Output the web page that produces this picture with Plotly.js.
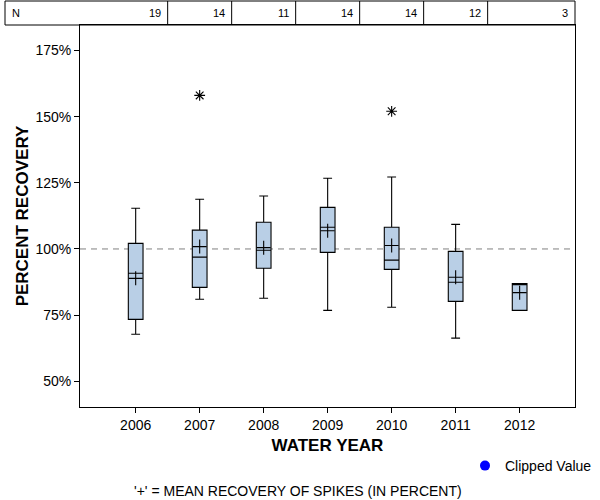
<!DOCTYPE html>
<html>
<head>
<meta charset="utf-8">
<script src="https://cdn.plot.ly/plotly-3.0.1.min.js"></script>
<style>html,body{margin:0;padding:0;background:#fff;}#chart{width:600px;height:500px;}</style>
</head>
<body>
<div id="chart"></div>
<script>
// ---- data ----
var years = ['2006', '2007', '2008', '2009', '2010', '2011', '2012'];
var nCounts = [19, 14, 11, 14, 14, 12, 3];
var lowerWhisker = [67.8, 81.0, 81.4, 76.8, 78.0, 66.3, 76.8];
var q1 = [73.4, 85.5, 92.7, 98.7, 92.3, 80.2, 76.8];
var median = [90.8, 96.9, 99.5, 108.2, 95.8, 87.4, 86.9];
var q3 = [102.1, 107.1, 110.1, 115.7, 108.2, 99.1, 86.9];
var upperWhisker = [115.4, 118.8, 120.0, 126.7, 127.2, 109.3, 86.9];
var means = [88.9, 100.9, 100.5, 106.9, 101.3, 89.3, 83.5];
var outlierYears = ['2007', '2010'];
var outlierValues = [158.0, 152.0];
var yTicks = [50, 75, 100, 125, 150, 175];
var yTickLabels = ['50%', '75%', '100%', '125%', '150%', '175%'];

// ---- layout helpers ----
var FONT = 'Liberation Sans, Arial, sans-serif';
var idx = years.map(function (d, i) { return i; });
var xRange = [-0.87, 6.865];
var yRange = [40.3, 184.6];
var plotW = 495, plotH = 382;
var tableH = 24 / plotH;

var traces = [
  {
    type: 'box',
    x: idx,
    q1: q1, median: median, q3: q3,
    lowerfence: lowerWhisker, upperfence: upperWhisker,
    width: 0.23,
    whiskerwidth: 0.6,
    fillcolor: '#b9cfe6',
    line: { color: '#000', width: 1.1 },
    boxpoints: false,
    hoverinfo: 'skip',
    showlegend: false
  },
  {
    type: 'scatter', mode: 'markers',
    x: idx, y: means,
    marker: { symbol: 'cross-thin-open', size: 10, color: '#000', line: { color: '#000', width: 1.1 } },
    showlegend: false, hoverinfo: 'skip'
  },
  {
    type: 'scatter', mode: 'markers',
    x: outlierYears.map(function (y) { return years.indexOf(y); }), y: outlierValues,
    marker: { symbol: 'asterisk-open', size: 9, color: '#000', line: { color: '#000', width: 1.1 } },
    showlegend: false, hoverinfo: 'skip'
  },
  {
    type: 'scatter', mode: 'markers',
    x: [null], y: [null],
    name: 'Clipped Value',
    marker: { symbol: 'circle', size: 10, color: '#0000ff' },
    showlegend: true
  }
];

var shapes = [
  { type: 'line', xref: 'paper', yref: 'y', x0: 0, x1: 1, y0: 100, y1: 100,
    line: { color: '#808080', width: 1, dash: '6px,5px' }, layer: 'below' },
  { type: 'rect', xref: 'paper', yref: 'paper', x0: -75 / plotW, x1: 1, y0: 1, y1: 1 + tableH,
    line: { color: '#000', width: 1 } }
];
var annotations = [
  { xref: 'paper', yref: 'paper', x: -70 / plotW, y: 1 + tableH / 2, xanchor: 'left', yanchor: 'middle',
    text: 'N', showarrow: false, font: { family: FONT, size: 11, color: '#000' } }
];
nCounts.forEach(function (n, i) {
  var right = (i < years.length - 1) ? i + 0.5 : xRange[1];
  if (i < years.length - 1) {
    shapes.push({ type: 'line', xref: 'x', yref: 'paper', x0: right, x1: right, y0: 1, y1: 1 + tableH,
      line: { color: '#000', width: 1 } });
  }
  annotations.push({ xref: 'x', yref: 'paper', x: right, y: 1 + tableH / 2, xanchor: 'right', yanchor: 'middle',
    xshift: -5, text: String(n), showarrow: false, font: { family: FONT, size: 11, color: '#000' } });
});
annotations.push({ xref: 'paper', yref: 'paper', x: (298 - 80) / plotW, y: (407 - 491) / plotH,
  xanchor: 'center', yanchor: 'middle', showarrow: false,
  text: "'+' = MEAN RECOVERY OF SPIKES (IN PERCENT)", font: { family: FONT, size: 14, color: '#000' } });

var layout = {
  width: 600, height: 500,
  margin: { l: 80, r: 25, t: 25, b: 93, autoexpand: false },
  paper_bgcolor: '#fff', plot_bgcolor: '#fff',
  font: { family: FONT, size: 14, color: '#000' },
  showlegend: true,
  legend: { xref: 'container', yref: 'container', x: 597 / 600, xanchor: 'right', y: 1 - 466 / 500, yanchor: 'middle',
    bgcolor: 'rgba(0,0,0,0)', font: { family: FONT, size: 14, color: '#000' } },
  xaxis: {
    range: xRange, tickmode: 'array', tickvals: idx, ticktext: years,
    showgrid: false, zeroline: false, showline: true, mirror: true, linecolor: '#000', linewidth: 1,
    ticks: 'outside', ticklen: 5, tickcolor: '#000', automargin: false,
    tickfont: { family: FONT, size: 14 },
    title: { text: 'WATER YEAR', font: { family: FONT, size: 17, color: '#000', weight: 'bold' }, standoff: 7 }
  },
  yaxis: {
    range: yRange, tickmode: 'array', tickvals: yTicks, ticktext: yTickLabels,
    showgrid: false, zeroline: false, showline: true, mirror: true, linecolor: '#000', linewidth: 1,
    ticks: 'outside', ticklen: 5, tickcolor: '#000', automargin: false,
    tickfont: { family: FONT, size: 14 },
    title: { text: 'PERCENT RECOVERY', font: { family: FONT, size: 17, color: '#000', weight: 'bold' }, standoff: 2 }
  },
  shapes: shapes,
  annotations: annotations
};

Plotly.newPlot('chart', traces, layout, { displayModeBar: false, staticPlot: true });
</script>
</body>
</html>
